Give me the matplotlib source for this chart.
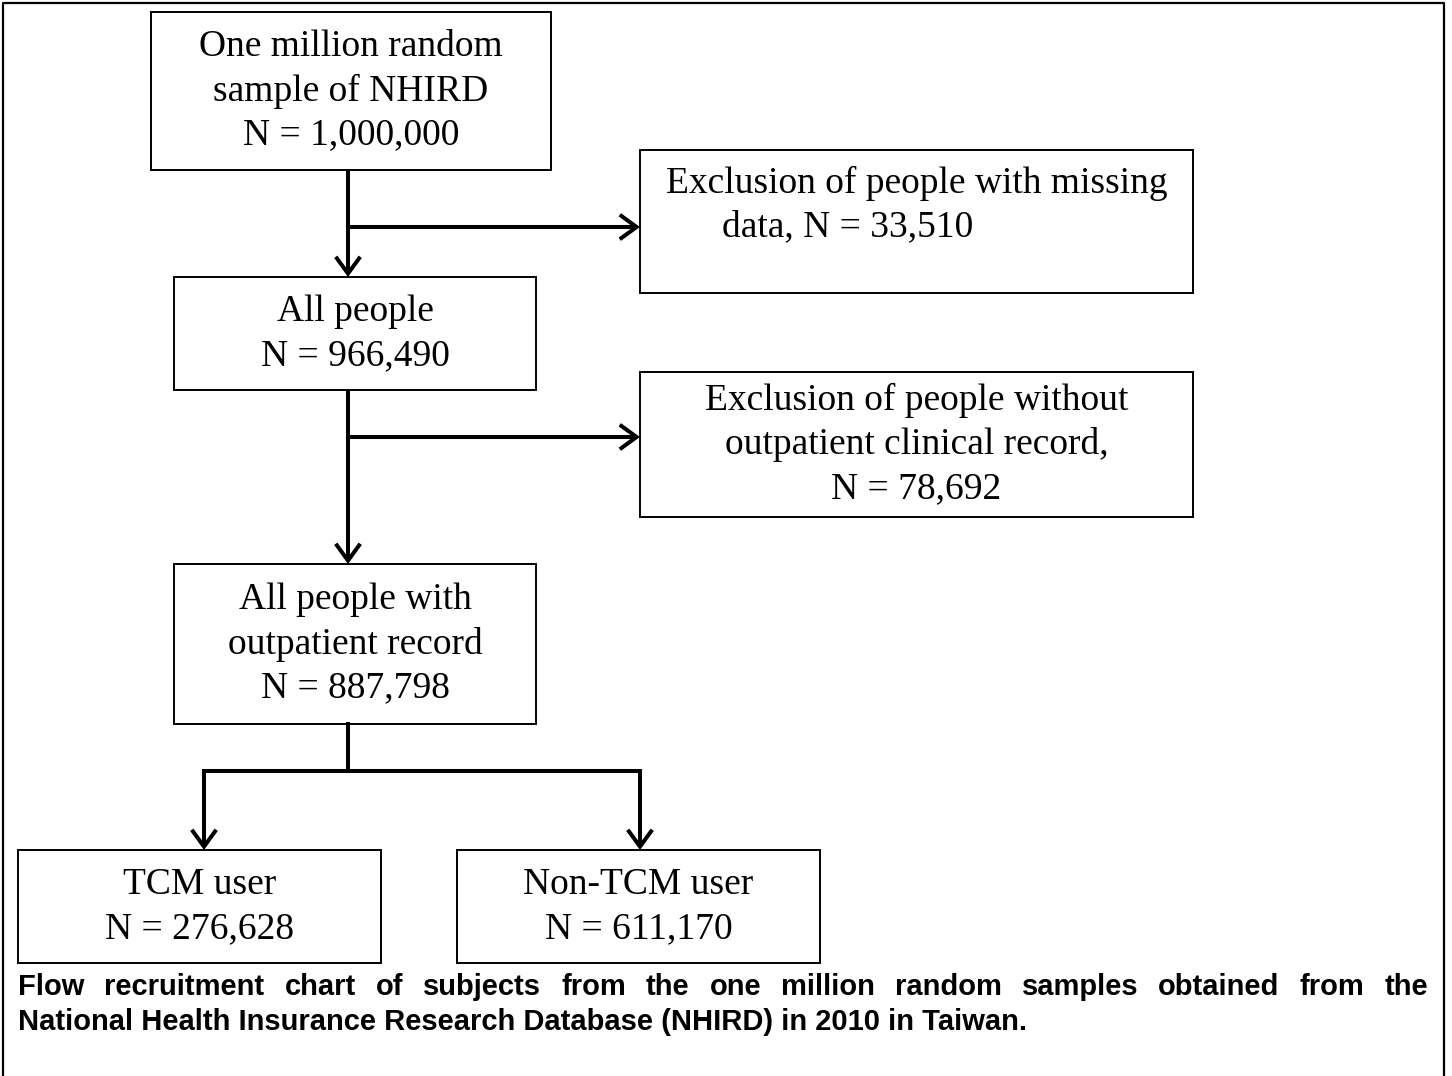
import matplotlib
matplotlib.use("Agg")
import matplotlib.pyplot as plt
from matplotlib.patches import Rectangle, FancyArrowPatch

# Counts at each stage of the recruitment flow.

total_n = 1000000
missing_n = 33510
all_people_n = 966490
no_outpatient_n = 78692
outpatient_n = 887798
tcm_n = 276628
non_tcm_n = 611170

caption_line1 = ("Flow recruitment chart of subjects from the one million random "
                 "samples obtained from the")
caption_line2 = ("National Health Insurance Research Database (NHIRD) in 2010 "
                 "in Taiwan.")


def fmt(n):
    return "N = {:,}".format(n)


# Box texts.

box_lines = {
    "top": ["One million random", "sample of NHIRD", fmt(total_n)],
    "all": ["All people", fmt(all_people_n)],
    "outp": ["All people with", "outpatient record", fmt(outpatient_n)],
    "excl2": ["Exclusion of people without", "outpatient clinical record,",
              fmt(no_outpatient_n)],
    "tcm": ["TCM user", fmt(tcm_n)],
    "nontcm": ["Non-TCM user", fmt(non_tcm_n)],
}

# Layout in pixel coordinates (x0, y0, x1, y1), y downwards.

boxes = {
    "top": (151, 12, 551, 170),
    "excl1": (640, 150, 1193, 293),
    "all": (174, 277, 536, 390),
    "excl2": (640, 372, 1193, 517),
    "outp": (174, 564, 536, 724),
    "tcm": (18, 850, 381, 963),
    "nontcm": (457, 850, 820, 963),
}

W, H = 1452, 1076
fig = plt.figure(figsize=(W / 100, H / 100), dpi=100)
ax = fig.add_axes([0, 0, 1, 1])
ax.set_xlim(0, W)
ax.set_ylim(H, 0)
ax.axis("off")

serif = "Liberation Serif"
fs = 27
line_gap = 44

# Outer frame (its bottom edge falls outside the picture).

ax.plot([3, 3, 1444, 1444], [1080, 3, 3, 1080], color="black", lw=1.6)

# Boxes.

for key, (x0, y0, x1, y1) in boxes.items():
    ax.add_patch(Rectangle((x0, y0), x1 - x0, y1 - y0, fill=False,
                           lw=1.4, ec="black"))

for key, lines in box_lines.items():
    x0, y0, x1, y1 = boxes[key]
    cx = (x0 + x1) / 2
    cy = (y0 + y1) / 2
    start = cy - line_gap * (len(lines) - 1) / 2
    for i, line in enumerate(lines):
        ax.text(cx, start + i * line_gap, line, ha="center", va="center",
                fontsize=fs, family=serif)

# First exclusion box has a ragged second line.

ax.text(917, 183, "Exclusion of people with missing", ha="center",
        va="center", fontsize=fs, family=serif)
ax.text(722, 227, "data, " + fmt(missing_n), ha="left", va="center",
        fontsize=fs, family=serif)

# Connectors.

lw = 2.9
style = "->,head_length=0.55,head_width=0.4"


def arrow(p, q):
    ax.add_patch(FancyArrowPatch(p, q, arrowstyle=style, mutation_scale=22,
                                 lw=lw, color="black", shrinkA=0, shrinkB=0,
                                 joinstyle="miter", capstyle="butt"))


def seg(xs, ys):
    ax.plot(xs, ys, color="black", lw=lw, solid_capstyle="projecting")


vx = 348
arrow((vx, 170), (vx, 277))
arrow((vx, 227), (640, 227))
arrow((vx, 390), (vx, 564))
arrow((vx, 437), (640, 437))
seg([vx, vx], [724, 771])
seg([204, 640], [771, 771])
arrow((204, 771), (204, 850))
arrow((640, 771), (640, 850))

# Caption, first line justified across the frame.

cap_fs = 21
cap_kw = dict(fontsize=cap_fs, family="Liberation Sans", weight="bold",
              va="center", ha="left")
left, right = 18, 1428
words = caption_line1.split()
renderer = fig.canvas.get_renderer()
texts = [ax.text(0, 987, w, **cap_kw) for w in words]
inv = ax.transData.inverted()
widths = []
for t in texts:
    bb = t.get_window_extent(renderer=renderer)
    (xa, _), (xb, _) = inv.transform([(bb.x0, bb.y0), (bb.x1, bb.y1)])
    widths.append(xb - xa)
gap = (right - left - sum(widths)) / (len(words) - 1)
x = left
for t, w in zip(texts, widths):
    t.set_x(x)
    x += w + gap

ax.text(left, 1022, caption_line2, **cap_kw)

fig.savefig("out.png", dpi=100)
